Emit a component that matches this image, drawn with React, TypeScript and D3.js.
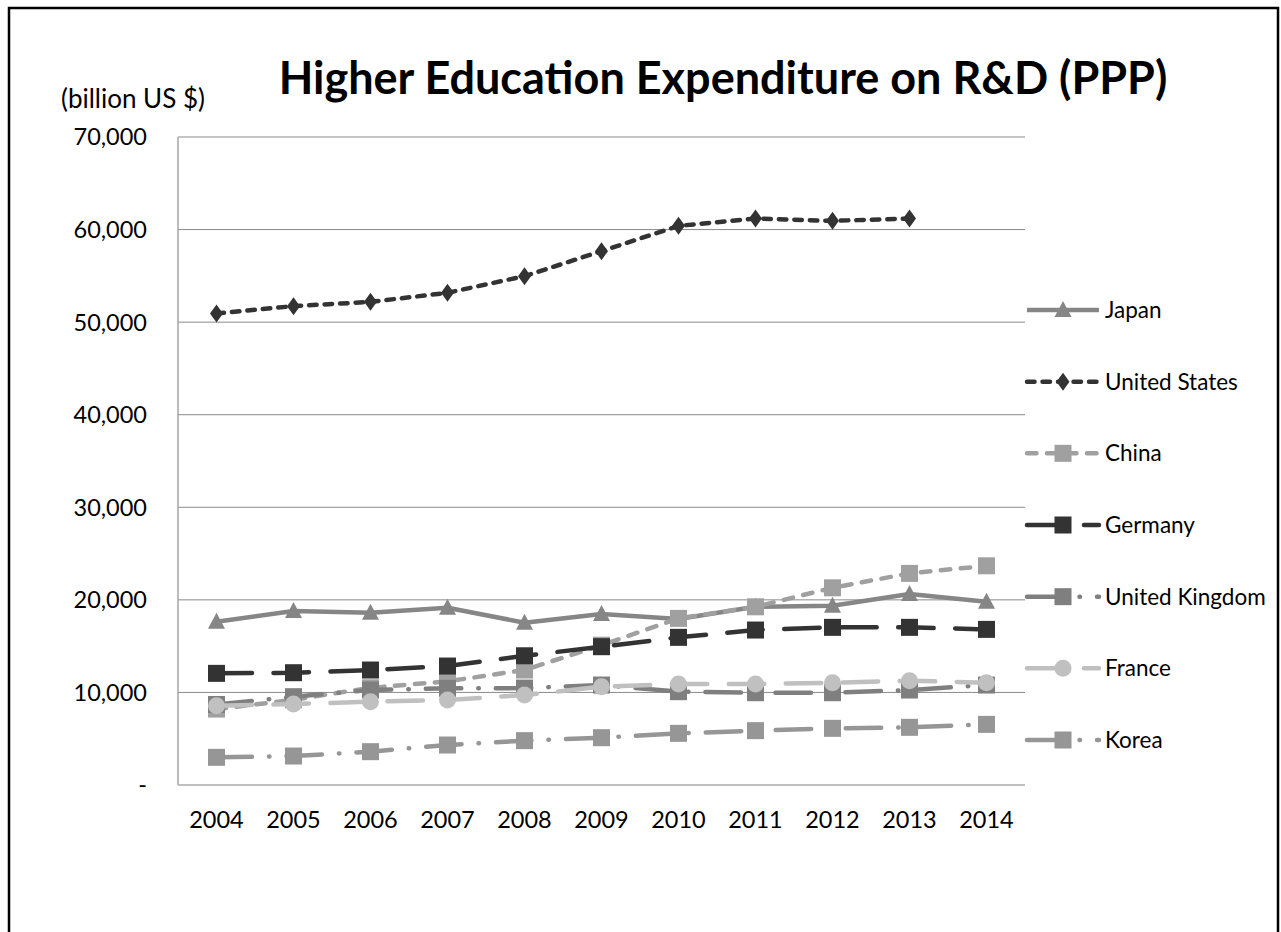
import React from "react";
import * as d3 from "d3";

const years = ["2004","2005","2006","2007","2008","2009","2010","2011","2012","2013","2014"];
const yTicks = [0,10000,20000,30000,40000,50000,60000,70000];

const japan = [17640,18790,18610,19150,17530,18470,17930,19250,19360,20630,19800];
const unitedStates = [50940,51730,52190,53170,54970,57670,60400,61200,60940,61200,null];
const china = [8200,9200,10500,11200,12420,15100,18000,19250,21300,22860,23680];
const germany = [12060,12130,12420,12850,13960,14940,15950,16740,17030,17030,16810];
const unitedKingdom = [8700,9540,10260,10440,10470,10800,10080,9970,9970,10260,10800];
const france = [8570,8750,9000,9180,9720,10620,10910,10910,11050,11270,11050];
const korea = [2990,3130,3600,4320,4790,5110,5580,5870,6120,6230,6550];

type Marker = "triangle" | "diamond" | "square" | "circle";
interface Series { name: string; values: (number|null)[]; color: string; dash: string; marker: Marker; }

const series: Series[] = [
  { name: "Japan", values: japan, color: "#868686", dash: "none", marker: "triangle" },
  { name: "United States", values: unitedStates, color: "#333333", dash: "7.5,8", marker: "diamond" },
  { name: "China", values: china, color: "#a0a0a0", dash: "9.5,10.5", marker: "square" },
  { name: "Germany", values: germany, color: "#333333", dash: "35.5,21.5", marker: "square" },
  { name: "United Kingdom", values: unitedKingdom, color: "#7f7f7f", dash: "35.5,17,0.5,17", marker: "square" },
  { name: "France", values: france, color: "#c0c0c0", dash: "35.5,21.5", marker: "circle" },
  { name: "Korea", values: korea, color: "#969696", dash: "35.5,17,0.5,17", marker: "square" },
];

const FONT = "Lato, 'Open Sans', sans-serif";

function MarkerShape({ type, x, y, color }: { type: Marker; x: number; y: number; color: string }) {
  if (type === "square") return <rect x={x - 8.5} y={y - 8.5} width={17} height={17} fill={color} />;
  if (type === "circle") return <circle cx={x} cy={y} r={8.5} fill={color} />;
  if (type === "triangle") return <path d={`M${x},${y - 9}L${x + 8.5},${y + 7}L${x - 8.5},${y + 7}Z`} fill={color} />;
  return <path d={`M${x},${y - 9}L${x + 6.5},${y}L${x},${y + 9}L${x - 6.5},${y}Z`} fill={color} />;
}

export default function App() {
  const left = 178, right = 1025, top = 137, bottom = 785;
  const x = d3.scalePoint<string>().domain(years).range([left, right]).padding(0.5);
  const y = d3.scaleLinear().domain([0, 70000]).range([bottom, top]);
  const line = d3.line<number | null>()
    .defined((d) => d !== null)
    .x((_, i) => x(years[i]) as number)
    .y((d) => y(d as number));
  const fmt = d3.format(",");
  const legendY = d3.scaleLinear().domain([0, 6]).range([310, 740]);

  return (
    <svg width={1281} height={932} style={{ position: "absolute", left: 0, top: 0, background: "#fff" }} fontFamily={FONT}>
      <rect x={9} y={8} width={1269} height={1000} fill="#fff" stroke="#000" strokeWidth={2.5} />
      {yTicks.filter((t) => t > 0).map((t) => (
        <line key={t} x1={left} x2={right} y1={y(t)} y2={y(t)} stroke="#8a8a8a" strokeWidth={1} />
      ))}
      <line x1={left} x2={left} y1={top} y2={bottom} stroke="#a6a6a6" strokeWidth={1.5} />
      <line x1={left} x2={right} y1={bottom} y2={bottom} stroke="#bfbfbf" strokeWidth={2} />
      {yTicks.map((t) => (
        <text key={t} x={147} y={y(t)} dy="0.36em" textAnchor="end" fontSize={23.5} fill="#000">
          {t === 0 ? "-" : fmt(t)}
        </text>
      ))}
      {years.map((yr) => (
        <text key={yr} x={x(yr)} y={828} textAnchor="middle" fontSize={23.5} fill="#000">{yr}</text>
      ))}
      <text x={133} y={108} textAnchor="middle" fontSize={26} fill="#000">(billion US $)</text>
      <text x={723} y={94} textAnchor="middle" fontSize={45} fontWeight="bold" fill="#000">
        Higher Education Expenditure on R&amp;D (PPP)
      </text>
      {series.map((s) => (
        <g key={s.name}>
          <path d={line(s.values) || ""} fill="none" stroke={s.color} strokeWidth={4.5}
            strokeDasharray={s.dash} strokeLinecap={s.dash === "none" ? "butt" : "round"} strokeLinejoin="round" />
          {s.values.map((v, i) => v === null ? null : (
            <MarkerShape key={i} type={s.marker} x={x(years[i]) as number} y={y(v)} color={s.color} />
          ))}
        </g>
      ))}
      {series.map((s, i) => {
        const ly = legendY(i);
        return (
          <g key={s.name}>
            <line x1={1027} x2={1099} y1={ly} y2={ly} stroke={s.color} strokeWidth={4.5}
              strokeDasharray={s.dash} strokeLinecap={s.dash === "none" ? "butt" : "round"} />
            <MarkerShape type={s.marker} x={1063} y={ly} color={s.color} />
            <text x={1105} y={ly} dy="0.36em" fontSize={22.5} fill="#000">{s.name}</text>
          </g>
        );
      })}
    </svg>
  );
}
